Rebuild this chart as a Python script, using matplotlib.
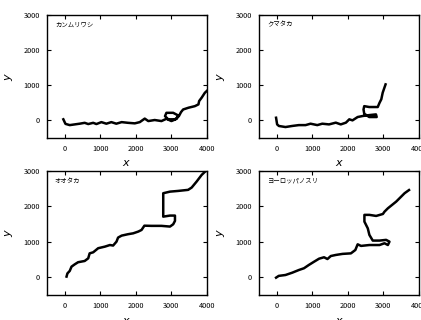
import matplotlib
matplotlib.use('Agg')
from matplotlib import pyplot as plt

plt.rcParams['font.family'] = ['Noto Sans CJK JP', 'DejaVu Sans']
plt.rcParams['mathtext.fontset'] = 'dejavusans'

names = ['カンムリワシ', 'クマタカ', 'オオタカ', 'ヨーロッパノスリ']

# trajectory 1
x1 = [-40, 20, 140, 280, 420, 560, 660, 800, 890, 1030, 1170, 1310, 1450, 1600,
      1780, 1970, 2110, 2250, 2350, 2530, 2720, 2860, 3000, 3150, 3190, 3050,
      2860, 2820, 2910, 3100, 3210, 3270, 3330, 3480, 3660, 3760, 3780, 3850,
      3940, 4040]
y1 = [30, -100, -135, -115, -95, -70, -105, -70, -105, -50, -95, -50, -95, -50,
      -70, -85, -50, 50, -20, 10, -20, 45, -20, 45, 140, 215, 215, 120, 30, 30,
      120, 235, 310, 360, 405, 455, 550, 645, 785, 880]

# trajectory 2
x2 = [-20, 10, 60, 245, 430, 620, 810, 950, 1140, 1280, 1470, 1660, 1800, 1945,
      2040, 2130, 2275, 2420, 2600, 2790, 2810, 2600, 2460, 2440, 2460, 2600,
      2840, 2890, 2940, 2980, 3060]
y2 = [75, -115, -160, -190, -160, -135, -135, -95, -135, -95, -115, -65, -115,
      -65, 30, 0, 95, 125, 150, 170, 95, 95, 190, 310, 405, 380, 380, 500, 600,
      790, 1025]

# trajectory 3
x3 = [50, 75, 140, 190, 280, 375, 560, 660, 700, 800, 940, 1130, 1270, 1360,
      1455, 1500, 1600, 1780, 1925, 2070, 2160, 2240, 2440, 2720, 2960, 3050,
      3100, 3100, 2960, 2770, 2770, 2770, 2770, 2960, 3190, 3470, 3570, 3710,
      3850, 4000]
y3 = [20, 110, 180, 300, 365, 425, 460, 535, 675, 705, 820, 865, 910, 895, 1005,
      1120, 1175, 1215, 1240, 1290, 1335, 1455, 1450, 1450, 1430, 1495, 1590,
      1740, 1740, 1710, 1850, 2130, 2370, 2415, 2435, 2465, 2530, 2700, 2885,
      3030]

# trajectory 4
x4 = [-20, 55, 245, 435, 620, 765, 905, 1050, 1190, 1330, 1425, 1520, 1660,
      1850, 2085, 2210, 2275, 2370, 2605, 2890, 3030, 3125, 3170, 3075, 2890,
      2700, 2605, 2560, 2465, 2465, 2605, 2795, 2985, 3030, 3125, 3360, 3595,
      3720]
y4 = [-10, 40, 65, 130, 205, 255, 350, 440, 525, 565, 515, 600, 630, 660, 675,
      770, 930, 885, 910, 910, 960, 910, 1005, 1055, 1035, 1035, 1195, 1380,
      1570, 1760, 1760, 1730, 1785, 1850, 1945, 2135, 2370, 2460]

xs = [x1, x2, x3, x4]
ys = [y1, y2, y3, y4]

xticks = [0, 1000, 2000, 3000, 4000]
yticks = [0, 1000, 2000, 3000]

fig = plt.figure(figsize=(4.21, 3.2), dpi=100)
boxes = [
    [0.1116, 0.569, 0.380, 0.384],
    [0.6152, 0.569, 0.380, 0.384],
    [0.1116, 0.078, 0.380, 0.388],
    [0.6152, 0.078, 0.380, 0.388],
]

for i in range(4):
    ax = fig.add_axes(boxes[i])
    ax.plot(xs[i], ys[i], color='black', lw=1.8, solid_joinstyle='round')
    ax.set_xlim(-500, 4000)
    ax.set_ylim(-500, 3000)
    ax.set_xticks(xticks)
    ax.set_yticks(yticks)
    ax.tick_params(direction='in', top=True, right=True, labelsize=5.3,
                   length=3, width=0.8, pad=5)
    for s in ax.spines.values():
        s.set_linewidth(1.0)
    ax.set_xlabel('$x$', fontsize=8, labelpad=4)
    ax.set_ylabel('$y$', fontsize=8, labelpad=6)
    ax.text(0.05, 0.955, names[i], transform=ax.transAxes, fontsize=4.6,
            va='top', ha='left')

fig.savefig('out.png', dpi=100)
